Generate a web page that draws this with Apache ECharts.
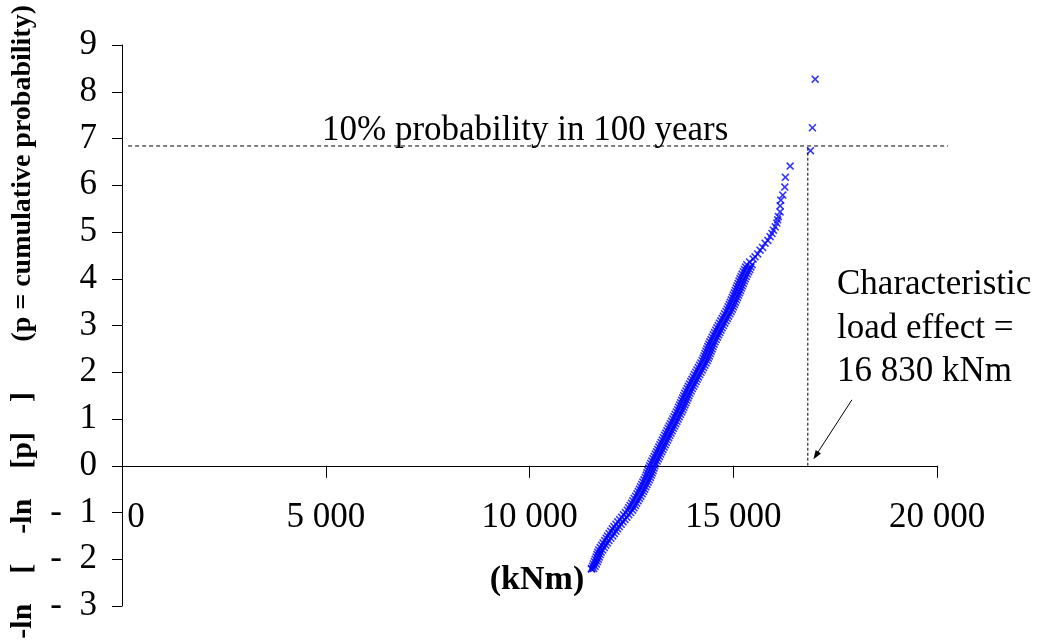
<!DOCTYPE html>
<html><head><meta charset="utf-8">
<script src="https://cdn.jsdelivr.net/npm/echarts@6/dist/echarts.min.js"></script>
<style>html,body{margin:0;padding:0;background:#fff}#c{width:1037px;height:643px}</style>
</head><body><div id="c"></div>
<script>
// ---- data (load effect in kNm, reduced variate -ln[-ln p]) ----
const xTickValues = [0, 5000, 10000, 15000, 20000];
const xTickLabels = ['0', '5 000', '10 000', '15 000', '20 000'];

const lowerTail = [
  [11523,-2.21],[11519,-2.2],[11574,-2.2],[11548,-2.15],[11610,-2.15],[11567,-2.1],[11640,-2.1],
  [11590,-2.05],[11668,-2.05],[11612,-2.0],[11690,-2.0],[11635,-1.95],[11712,-1.95],
  [11655,-1.9],[11735,-1.9],[11675,-1.85],[11760,-1.85],[11700,-1.8],[11795,-1.8],
  [11735,-1.75],[11835,-1.75],[11770,-1.7],[11872,-1.7],[11805,-1.65],[11910,-1.65],
  [11845,-1.6],[11950,-1.6],[11880,-1.55],[11995,-1.55]
];
const centralBand = [
  [11913,-1.5],[12043,-1.5],[11953,-1.45],[12083,-1.45],[11993,-1.4],[12123,-1.4],
  [12033,-1.35],[12163,-1.35],[12073,-1.3],[12203,-1.3],[12120,-1.25],[12250,-1.25],
  [12166,-1.2],[12296,-1.2],[12213,-1.15],[12343,-1.15],[12260,-1.1],[12390,-1.1],
  [12307,-1.05],[12437,-1.05],[12353,-1.0],[12483,-1.0],[12400,-0.95],[12530,-0.95],
  [12434,-0.9],[12564,-0.9],[12468,-0.85],[12598,-0.85],[12502,-0.8],[12632,-0.8],
  [12536,-0.75],[12666,-0.75],[12570,-0.7],[12700,-0.7],[12604,-0.65],[12734,-0.65],
  [12638,-0.6],[12768,-0.6],[12668,-0.55],[12798,-0.55],[12696,-0.5],[12826,-0.5],
  [12724,-0.45],[12854,-0.45],[12753,-0.4],[12883,-0.4],[12781,-0.35],[12911,-0.35],
  [12809,-0.3],[12939,-0.3],[12838,-0.25],[12968,-0.25],[12862,-0.2],[12992,-0.2],
  [12883,-0.15],[13013,-0.15],[12904,-0.1],[13034,-0.1],[12926,-0.05],[13056,-0.05],
  [12947,0],[13077,0],[12975,0.05],[13105,0.05],[13003,0.1],[13133,0.1],
  [13032,0.15],[13162,0.15],[13060,0.2],[13190,0.2],[13088,0.25],[13218,0.25],
  [13116,0.3],[13246,0.3],[13145,0.35],[13275,0.35],[13173,0.4],[13303,0.4],
  [13201,0.45],[13331,0.45],[13229,0.5],[13359,0.5],[13258,0.55],[13388,0.55],
  [13287,0.6],[13417,0.6],[13315,0.65],[13445,0.65],[13344,0.7],[13474,0.7],
  [13372,0.75],[13502,0.75],[13401,0.8],[13531,0.8],[13430,0.85],[13560,0.85],
  [13459,0.9],[13589,0.9],[13488,0.95],[13618,0.95],[13517,1.0],[13647,1.0],
  [13546,1.05],[13676,1.05],[13575,1.1],[13705,1.1],[13605,1.15],[13735,1.15],
  [13633,1.2],[13763,1.2],[13658,1.25],[13788,1.25],[13683,1.3],[13813,1.3],
  [13708,1.35],[13838,1.35],[13733,1.4],[13863,1.4],[13758,1.45],[13888,1.45],
  [13783,1.5],[13913,1.5],[13808,1.55],[13938,1.55],[13838,1.6],[13968,1.6],
  [13867,1.65],[13997,1.65],[13897,1.7],[14027,1.7],[13927,1.75],[14057,1.75],
  [13957,1.8],[14087,1.8],[13986,1.85],[14116,1.85],[14016,1.9],[14146,1.9],
  [14047,1.95],[14177,1.95],[14079,2.0],[14209,2.0],[14110,2.05],[14240,2.05],
  [14141,2.1],[14271,2.1],[14173,2.15],[14303,2.15],[14204,2.2],[14334,2.2],
  [14236,2.25],[14366,2.25],[14260,2.3],[14390,2.3],[14283,2.35],[14413,2.35],
  [14306,2.4],[14436,2.4],[14329,2.45],[14459,2.45],[14352,2.5],[14482,2.5],
  [14375,2.55],[14505,2.55],[14398,2.6],[14528,2.6],[14424,2.65],[14554,2.65],
  [14454,2.7],[14584,2.7],[14483,2.75],[14613,2.75],[14512,2.8],[14642,2.8],
  [14541,2.85],[14671,2.85],[14570,2.9],[14700,2.9],[14599,2.95],[14729,2.95],
  [14630,3.0],[14760,3.0],[14662,3.05],[14792,3.05],[14694,3.1],[14824,3.1],
  [14726,3.15],[14856,3.15],[14757,3.2],[14887,3.2],[14789,3.25],[14919,3.25],
  [14821,3.3],[14951,3.3],[14850,3.35],[14980,3.35],[14875,3.4],[15005,3.4],
  [14900,3.45],[15030,3.45],[14925,3.5],[15055,3.5],[14951,3.55],[15081,3.55],
  [14976,3.6],[15106,3.6],[15001,3.65],[15131,3.65],[15026,3.7],[15156,3.7],
  [15049,3.75],[15179,3.75],[15072,3.8],[15202,3.8],[15096,3.85],[15226,3.85],
  [15119,3.9],[15249,3.9],[15142,3.95],[15272,3.95],[15165,4.0],[15295,4.0],
  [15190,4.05],[15320,4.05],[15218,4.1],[15348,4.1],[15247,4.15],[15377,4.15],
  [15275,4.2],[15405,4.2],[15304,4.25],[15434,4.25],[15333,4.3],[15463,4.3]
];
const upperTail = [
  [15400,4.36],[15490,4.42],[15535,4.47],[15600,4.53],[15658,4.61],[15720,4.67],[15781,4.76],
  [15850,4.82],[15904,4.90],[15950,4.97],[15986,5.04],[16030,5.11],[16069,5.19],
  [16090,5.26],[16108,5.33],[16150,5.43],[16150,5.56],[16167,5.68],[16216,5.79],
  [16265,5.96],[16280,6.17],[16396,6.41],[16895,6.74],[16943,7.23],[17010,8.27]
];

const characteristicLoad = 16830;   // kNm
const targetVariate = 6.84;         // 10% probability in 100 years
const hLineFromX = 150, hLineToX = 20270;
const arrowFrom = [17912, 1.41], arrowTo = [16968, 0.14];

const FONT = "'Liberation Serif','Times New Roman',serif";
const xSymbol = 'path://M0,1.4L1.4,0L5,3.6L8.6,0L10,1.4L6.4,5L10,8.6L8.6,10L5,6.4L1.4,10L0,8.6L3.6,5Z';

const chart = echarts.init(document.getElementById('c'), null, {renderer: 'canvas'});
chart.setOption({
  animation: false,
  backgroundColor: '#ffffff',
  grid: {left: 122, right: 100, top: 45, bottom: 37, containLabel: false, outerBoundsMode: 'none'},
  xAxis: {
    type: 'value', min: 0, max: 20000, interval: 5000,
    axisLine: {onZero: true, lineStyle: {color: '#000', width: 1}},
    axisTick: {show: true, length: 12, lineStyle: {color: '#000'}},
    splitLine: {show: false},
    axisLabel: {show: false}
  },
  yAxis: {
    type: 'value', min: -3, max: 9, interval: 1,
    axisLine: {show: true, onZero: false, lineStyle: {color: '#000', width: 1}},
    axisTick: {show: true, length: 10, lineStyle: {color: '#000'}},
    splitLine: {show: false},
    axisLabel: {
      margin: 25, color: '#000', fontFamily: FONT, fontSize: 35,
      formatter: function (v) { return v < 0 ? '-  ' + Math.abs(v) : String(v); }
    }
  },
  series: [{
    type: 'scatter',
    symbol: xSymbol,
    symbolSize: 8,
    itemStyle: {color: '#0000ff'},
    data: lowerTail.concat(centralBand, upperTail)
  }]
});

function px(p) { return chart.convertToPixel({gridIndex: 0}, p); }
const h0 = px([hLineFromX, targetVariate]), h1 = px([hLineToX, targetVariate]);
const v0 = px([characteristicLoad, 0]), v1 = px([characteristicLoad, targetVariate]);
const a0 = px(arrowFrom), a1 = px(arrowTo);
const dx = a1[0] - a0[0], dy = a1[1] - a0[1], L = Math.hypot(dx, dy);
const ux = dx / L, uy = dy / L, hl = 9, hw = 3.2;
const head = [
  [a1[0], a1[1]],
  [a1[0] - ux * hl - uy * hw, a1[1] - uy * hl + ux * hw],
  [a1[0] - ux * hl + uy * hw, a1[1] - uy * hl - ux * hw]
];

function txt(x, y, s, font, align) {
  return {type: 'text', x: x, y: y, z: 10,
    style: {text: s, font: font, fill: '#000', textAlign: align, textVerticalAlign: 'middle',
            align: align, verticalAlign: 'middle'}};
}

const graphics = [
  {type: 'line', shape: {x1: h0[0], y1: h0[1], x2: h1[0], y2: h1[1]},
   style: {stroke: '#000', lineWidth: 1, lineDash: [4, 3]}, z: 10},
  {type: 'line', shape: {x1: v0[0], y1: v0[1], x2: v1[0], y2: v1[1]},
   style: {stroke: '#000', lineWidth: 1, lineDash: [3, 2]}, z: 10},
  {type: 'line', shape: {x1: a0[0], y1: a0[1], x2: a1[0] - ux * 6, y2: a1[1] - uy * 6},
   style: {stroke: '#000', lineWidth: 1}, z: 10},
  {type: 'polygon', shape: {points: head}, style: {fill: '#000'}, z: 10},
  txt(322, 131, '10% probability in 100 years', '35px ' + FONT, 'left'),
  txt(837, 285, 'Characteristic', '35px ' + FONT, 'left'),
  txt(837, 329, 'load effect =', '35px ' + FONT, 'left'),
  txt(837, 372, '16 830 kNm', '35px ' + FONT, 'left'),
  txt(537, 580, '(kNm)', 'bold 34px ' + FONT, 'center'),
  Object.assign(txt(23, 5, '(p = cumulative probability)', 'bold 28px ' + FONT, 'right'), {rotation: Math.PI / 2}),
  Object.assign(txt(23, 392, '-ln\u2003[\u2003-ln\u2003[p]\u2003]', 'bold 30px ' + FONT, 'right'), {rotation: Math.PI / 2})
];
// x-axis tick labels, placed through the axis scale below the zero line
xTickValues.forEach(function (v, i) {
  const p = px([v, 0]);
  graphics.push(txt(p[0] + (v === 0 ? 14 : 0), p[1] + 52, xTickLabels[i], '35px ' + FONT, 'center'));
});
chart.setOption({graphic: graphics});
</script>
</body></html>
